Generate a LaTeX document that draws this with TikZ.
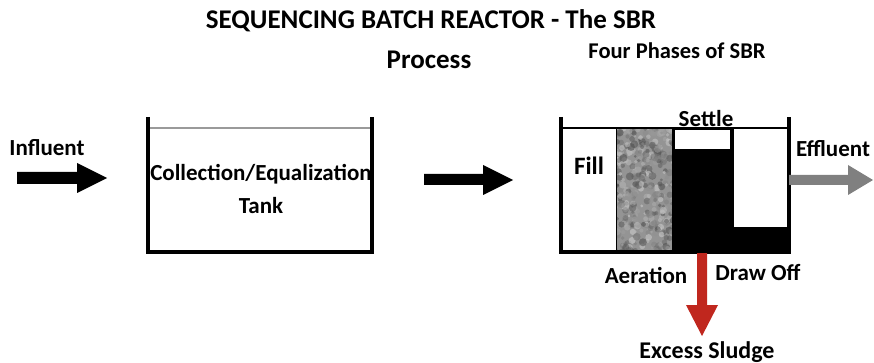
\documentclass[tikz,border=0pt]{standalone}
\usepackage{fontspec}
\setmainfont{Carlito}
\definecolor{sludgered}{RGB}{192,39,30}
\definecolor{effgray}{RGB}{128,128,128}
\begin{document}
\begin{tikzpicture}[x=1pt,y=-1pt,
  lbl/.style={font=\bfseries\fontsize{23}{33}\selectfont, inner sep=0pt},
  title/.style={font=\bfseries\fontsize{27}{27}\selectfont, inner sep=0pt},
  sub/.style={font=\bfseries\fontsize{22.5}{22.5}\selectfont, inner sep=0pt},
  wall/.style={line width=4pt},
]
\useasboundingbox (0,0) rectangle (874,363);

% titles
\node[title] (t1) at (431,21) {SEQUENCING BATCH REACTOR - The SBR};
\node[title] (t2) at (429,60) {Process};
\node[sub] (t3) at (677,51) {Four Phases of SBR};

% influent
\node[lbl] (infl) at (47,148) {Influent};
\fill (17,172) -- (77,172) -- (77,163) -- (107,178) -- (77,193) -- (77,184) -- (17,184) -- cycle;

% collection tank
\draw[effgray!80, line width=2pt] (150,128) -- (370,128);
\draw[wall] (148,117) -- (148,252) -- (372,252) -- (372,117);
\node[lbl, align=center] (coll) at (261,189) {Collection/Equalization\\Tank};

% middle arrow
\fill (424,174) -- (483,174) -- (483,165) -- (513,180) -- (483,195) -- (483,185) -- (424,185) -- cycle;

% SBR compartments
\fill[white] (563,129) rectangle (616,251);
\begin{scope}
  \clip (617,129) rectangle (672,251);
  \fill[black!42] (617,129) rectangle (672,251);
  \pgfmathsetseed{11}
  \foreach \i in {1,...,420}{
    \pgfmathsetmacro\xx{614+61*rnd}
    \pgfmathsetmacro\yy{126+128*rnd}
    \pgfmathtruncatemacro\g{18+55*rnd}
    \pgfmathsetmacro\rr{1.5+2.5*rnd}
    \fill[black!\g, opacity=0.55] (\xx,\yy) circle (\rr);
  }
\end{scope}
\fill[black] (672,129) rectangle (733,251);
\fill[white] (675,130) rectangle (730,149);
\fill[black] (733,227) rectangle (788,251);
\draw[line width=1.5pt] (616.5,129) -- (616.5,251);
\draw[line width=1.5pt] (733,129) -- (733,228) -- (788,228);
\draw[line width=2pt] (561,128.5) -- (789,128.5);
\draw[wall] (561,117) -- (561,252) -- (789,252) -- (789,117);

\node[lbl, font=\bfseries\fontsize{25}{25}\selectfont] (fill) at (589,166) {Fill};
\node[lbl] (settle) at (706,119) {Settle};
\node[lbl] (aer) at (646,275) {Aeration};
\node[lbl] (draw) at (758,273) {Draw Off};
\node[lbl] (eff) at (833,149) {Effluent};
\node[lbl, font=\bfseries\fontsize{24}{24}\selectfont] (sludge) at (707,352) {Excess Sludge};

% effluent arrow
\fill[effgray] (789,175) -- (848,175) -- (848,165) -- (873,180) -- (848,195) -- (848,185) -- (789,185) -- cycle;

% sludge arrow
\fill[sludgered] (697,253) -- (707,253) -- (707,305) -- (718,305) -- (702,336) -- (686,305) -- (697,305) -- cycle;
\end{tikzpicture}
\end{document}
